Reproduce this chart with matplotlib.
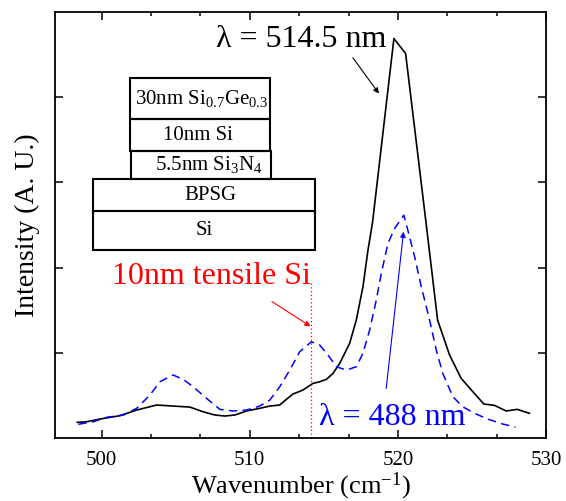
import matplotlib.pyplot as plt
from matplotlib.patches import Rectangle
from matplotlib.ticker import MultipleLocator

plt.rcParams['font.family'] = ['Liberation Serif', 'DejaVu Serif']
plt.rcParams['mathtext.fontset'] = 'custom'
plt.rcParams['mathtext.rm'] = 'Liberation Serif'
plt.rcParams['mathtext.it'] = 'Liberation Serif:italic'

# Raman spectrum, 514.5 nm excitation (solid black)
x_514 = [498.35, 498.99, 499.89, 501.23, 502.36, 503.71, 504.83, 505.95, 506.85, 507.64,
         508.31, 508.99, 509.78, 510.67, 511.35, 512.02, 512.47, 512.92, 513.59, 514.27,
         514.72, 515.17, 515.62, 516.07, 516.74, 517.19, 517.64, 517.98, 518.29, 519.73,
         520.52, 521.96, 522.68, 523.49, 524.27, 525.06, 525.80, 526.52, 527.31, 528.05,
         528.88]
y_514 = [0.184, 0.191, 0.223, 0.262, 0.328, 0.387, 0.375, 0.363, 0.308, 0.270,
         0.258, 0.270, 0.317, 0.348, 0.375, 0.387, 0.454, 0.516, 0.563, 0.641,
         0.660, 0.688, 0.758, 0.876, 1.110, 1.383, 1.774, 2.204, 2.532, 4.686,
         4.510, 2.438, 1.383, 0.973, 0.700, 0.543, 0.399, 0.383, 0.317, 0.336,
         0.290]

# Raman spectrum, 488 nm excitation (dashed blue)
x_488 = [498.42, 499.43, 500.34, 501.46, 502.36, 503.26, 503.93, 504.83, 505.50, 506.18,
         507.08, 507.98, 508.87, 509.78, 510.67, 511.35, 512.02, 512.70, 513.37, 514.16,
         514.72, 515.28, 515.85, 516.52, 517.19, 517.64, 518.09, 518.54, 518.88, 519.33,
         519.78, 520.40, 520.67, 521.13, 521.58, 522.14, 522.59, 523.03, 523.71, 524.38,
         525.17, 526.05, 527.08, 527.94]
y_488 = [0.161, 0.191, 0.243, 0.270, 0.348, 0.504, 0.660, 0.739, 0.688, 0.601,
         0.465, 0.336, 0.317, 0.328, 0.375, 0.445, 0.601, 0.797, 1.012, 1.129,
         1.090, 0.973, 0.836, 0.797, 0.836, 0.993, 1.266, 1.618, 1.931, 2.283,
         2.458, 2.614, 2.438, 2.125, 1.774, 1.383, 1.032, 0.758, 0.484, 0.367,
         0.290, 0.223, 0.164, 0.129]

tensile_x = 514.15
tensile_top = 1.83

x_ticks = [500, 510, 520, 530]
y_ticks = [1, 2, 3, 4]

# layer stack: (label, left, bottom, right, top) in axes fraction
layers = [
    ('30nm Si$_{\\mathrm{0.7}}$Ge$_{\\mathrm{0.3}}$', 0.1527, 0.7476, 0.4379, 0.8438),
    ('10nm Si', 0.1527, 0.6739, 0.4379, 0.7476),
    ('5.5nm Si$_{\\mathrm{3}}$N$_{\\mathrm{4}}$', 0.1548, 0.6076, 0.4393, 0.6739),
    ('BPSG', 0.0780, 0.5325, 0.5295, 0.6076),
    ('Si', 0.0780, 0.4410, 0.5295, 0.5325),
]
layer_text_dx = [0.004, -0.004, 0.017, 0.012, 0.0]

fig = plt.figure(figsize=(5.66, 5.01), dpi=100)
ax = fig.add_axes([0.0972, 0.1257, 0.8675, 0.8509])

ax.plot(x_514, y_514, color='black', lw=1.2)
ax.plot(x_488, y_488, color='blue', lw=1.1, linestyle=(0, (5.5, 3.5)))
ax.plot([tensile_x, tensile_x], [0, tensile_top], color='red', lw=0.9, linestyle=(0, (1, 2)))

ax.set_xlim(496.85, 530.0)
ax.set_ylim(0, 5.0)
ax.set_xticks(x_ticks)
ax.xaxis.set_minor_locator(MultipleLocator(10 / 3))
ax.set_yticks(y_ticks)
ax.set_yticklabels([])
ax.tick_params(which='major', direction='in', length=6, width=1.1,
               top=True, right=True, labelsize=15, pad=9)
ax.tick_params(which='minor', direction='in', length=3, width=1.1, top=True)
for s in ax.spines.values():
    s.set_linewidth(1.3)

ax.set_xlabel('Wavenumber (cm$^{\\mathrm{-1}}$)', fontsize=19, labelpad=1)
ax.set_ylabel('Intensity (A. U.)', fontsize=20, labelpad=2)

# layer stack
for (lab, l, b, r, t), dx in zip(layers, layer_text_dx):
    ax.add_patch(Rectangle((l, b), r - l, t - b, transform=ax.transAxes,
                           fill=False, ec='black', lw=1.5))
    ax.text((l + r) / 2 + dx, (b + t) / 2, lab, transform=ax.transAxes,
            ha='center', va='center', fontsize=15)

# annotations
ax.text(513.44, 4.67, 'λ = 514.5 nm', fontsize=23, ha='center', va='center')
ax.annotate('', xy=(518.72, 4.04), xytext=(516.96, 4.46),
            arrowprops=dict(arrowstyle='-|>', color='black', lw=0.8,
                            mutation_scale=8, shrinkA=0, shrinkB=0))

ax.text(507.44, 1.89, '10nm tensile Si', fontsize=23, color='red', ha='center', va='center')
ax.annotate('', xy=(514.1, 1.31), xytext=(511.5, 1.60),
            arrowprops=dict(arrowstyle='-|>', color='red', lw=0.8,
                            mutation_scale=8, shrinkA=0, shrinkB=0))

ax.text(514.69, 0.15, 'λ = 488 nm', fontsize=23, color='blue', ha='left', va='baseline')
ax.annotate('', xy=(520.38, 2.42), xytext=(519.21, 0.58),
            arrowprops=dict(arrowstyle='-|>', color='blue', lw=0.8,
                            mutation_scale=8, shrinkA=0, shrinkB=0))

fig.savefig('out.png', dpi=100)
